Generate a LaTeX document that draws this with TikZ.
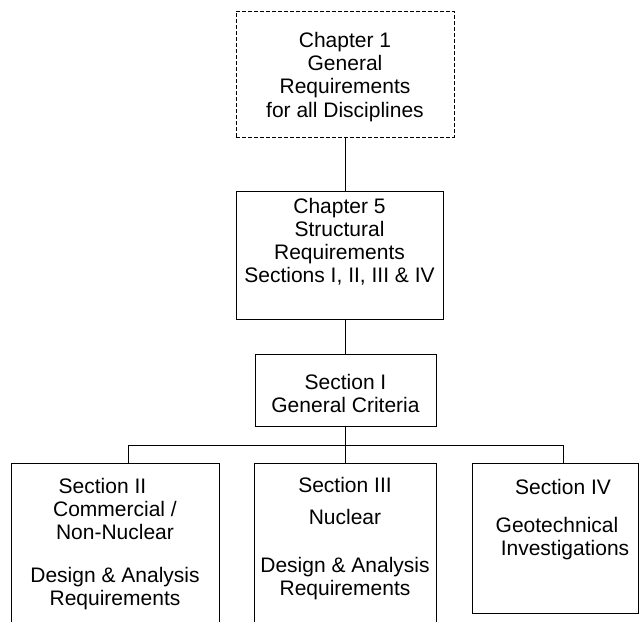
\documentclass[tikz,border=0pt]{standalone}
\usepackage{fontspec}
\setmainfont{Liberation Sans}
\usetikzlibrary{positioning}

% width, height, first baseline from top, lines
\newcommand{\boxtext}[4]{\parbox[c][#2][t]{#1}{\centering\rule{0pt}{#3}#4}}

\tikzset{
  box/.style={draw, line width=0.9bp, inner sep=0pt,
    font=\fontsize{21bp}{23.2bp}\selectfont},
  dashbox/.style={box, dash pattern=on 4bp off 2bp},
  link/.style={line width=0.9bp}
}

\begin{document}
\begin{tikzpicture}[x=1bp, y=-1bp]

  \clip (0,0) rectangle (640,622);

  \node[dashbox] (ch1) at (345,74)
    {\boxtext{218bp}{126bp}{36.5bp}{Chapter 1\\General\\Requirements\\for all Disciplines}};
  \node[box] (ch5) at (339.5,255)
    {\boxtext{207bp}{128bp}{22bp}{Chapter 5\\Structural\\Requirements\\Sections I, II, III \& IV}};
  \node[box] (sec1) at (345.5,390)
    {\boxtext{181bp}{72bp}{35bp}{Section I\\General Criteria}};

  \node[box] (sec2) at (115,556.5)
    {\boxtext{208bp}{187bp}{30bp}{\hspace*{-25bp}Section II\\Commercial /\\Non-Nuclear\\[20bp]Design \& Analysis\\Requirements}};
  \node[box] (sec3) at (345,556.5)
    {\boxtext{182bp}{187bp}{29bp}{Section III\\[9bp]Nuclear\\[25bp]Design \& Analysis\\Requirements}};
  \node[box] (sec4) at (555,538)
    {\boxtext{166bp}{150bp}{31bp}{\hspace*{16bp}Section IV\\[15bp]\hspace*{4bp}Geotechnical\\\hspace*{20bp}Investigations}};

  % tree connectors
  \coordinate (jl) at (128,445);
  \coordinate (jr) at (563,445);

  \draw[link] (ch1.south) -- (ch1.south |- ch5.north);
  \draw[link] (sec1.north |- ch5.south) -- (sec1.north);
  \draw[link] (sec1.south) -- (sec1.south |- sec3.north);
  \draw[link] (jl) -- (jr);
  \draw[link] (jl) -- (jl |- sec2.north);
  \draw[link] (jr) -- (jr |- sec4.north);

\end{tikzpicture}
\end{document}
